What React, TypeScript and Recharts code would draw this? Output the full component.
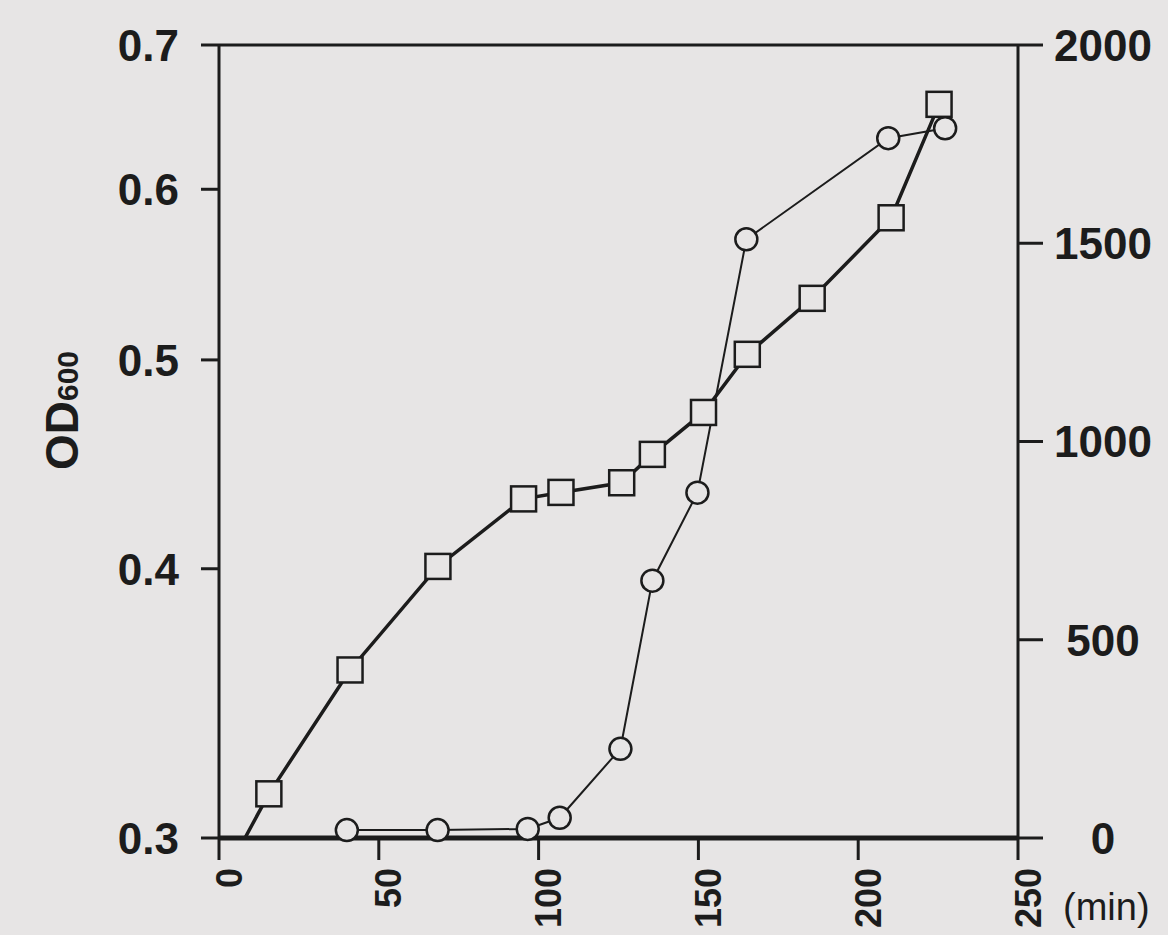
import React from 'react';
import { LineChart, Line, XAxis, YAxis, ReferenceLine } from 'recharts';

// OD600 (squares, left log axis) and activity (circles, right axis) vs time in min
const squareTimes = [0, 15.6, 41, 68.5, 95.3, 107, 126, 135.6, 151.6, 165.3, 185.6, 210.3, 225.3];
const squareOD = [0.285, 0.3145, 0.359, 0.401, 0.431, 0.434, 0.4385, 0.452, 0.4727, 0.503, 0.534, 0.582, 0.657];
const circleTimes = [40, 68.4, 96.6, 106.6, 125.6, 135.6, 149.7, 165, 209.4, 227.2];
const circleValues = [20, 20, 23, 51, 225, 649, 871, 1510, 1765, 1790];
const timeTicks = [0, 50, 100, 150, 200, 250];
const odTicks = [0.3, 0.4, 0.5, 0.6, 0.7];
const rightTicks = [0, 500, 1000, 1500, 2000];

const INK = '#1c1c1c';
const BG = '#e7e5e5';
const FONT = '"Liberation Sans", Arial, Helvetica, sans-serif';

const odData = squareTimes.map((t, i) => ({ t, od: squareOD[i] }));
const circleData = circleTimes.map((t, i) => ({ t, value: circleValues[i] }));

const SquareDot = (props: any) => {
  const { cx, cy, index, payload } = props;
  if (payload.od < 0.3) return <g key={`sq-${index}`} />;
  return (
    <rect
      key={`sq-${index}`}
      x={cx - 12.5}
      y={cy - 12.5}
      width={25}
      height={25}
      fill={BG}
      stroke={INK}
      strokeWidth={2.5}
    />
  );
};

const CircleDot = (props: any) => {
  const { cx, cy, index } = props;
  return <circle key={`ci-${index}`} cx={cx} cy={cy} r={11} fill={BG} stroke={INK} strokeWidth={2.5} />;
};

const LeftTick = ({ x, y, payload }: any) => (
  <text x={x} y={y} dy="0.36em" textAnchor="end" fontFamily={FONT} fontSize={44} fontWeight="bold" fill={INK}>
    {payload.value}
  </text>
);

const RightTick = ({ x, y, payload }: any) => (
  <text x={x} y={y} dy="0.36em" textAnchor="middle" fontFamily={FONT} fontSize={44} fontWeight="bold" fill={INK}>
    {payload.value}
  </text>
);

const TimeTick = ({ x, y, payload }: any) => (
  <text
    x={x + 10}
    y={y}
    dy="0.35em"
    textAnchor="end"
    transform={`rotate(-90, ${x + 10}, ${y})`}
    fontFamily={FONT}
    fontSize={36}
    fontWeight="bold"
    fill={INK}
  >
    {payload.value}
  </text>
);

const ODLabel = ({ viewBox }: any) => {
  const x = viewBox.x + 78;
  const y = viewBox.y + viewBox.height / 2 - 31;
  return (
    <text x={x} y={y} textAnchor="middle" transform={`rotate(-90, ${x}, ${y})`} fontFamily={FONT} fontWeight="bold" fill={INK}>
      <tspan fontSize={46}>OD</tspan>
      <tspan fontSize={30}>600</tspan>
    </text>
  );
};

const MinLabel = ({ viewBox }: any) => (
  <text x={viewBox.x + viewBox.width + 45} y={viewBox.y + 82} fontFamily={FONT} fontSize={38} fill={INK}>
    (min)
  </text>
);

export default function App() {
  return (
    <div style={{ position: 'absolute', left: 0, top: 0, width: 1168, height: 935, background: BG }}>
      <LineChart width={1168} height={935} margin={{ top: 45, right: 0, bottom: 0, left: 0 }}>
        <XAxis
          type="number"
          dataKey="t"
          domain={[0, 250]}
          ticks={timeTicks}
          height={97}
          tickSize={22}
          tickMargin={8}
          tick={<TimeTick />}
          axisLine={{ stroke: INK, strokeWidth: 5 }}
          tickLine={{ stroke: INK, strokeWidth: 3 }}
          label={(p: any) => <MinLabel {...p} />}
        />
        <YAxis
          yAxisId="left"
          type="number"
          scale="log"
          domain={[0.3, 0.7]}
          allowDataOverflow
          ticks={odTicks}
          width={219}
          tickSize={18}
          tickMargin={22}
          tick={<LeftTick />}
          axisLine={{ stroke: INK, strokeWidth: 3 }}
          tickLine={{ stroke: INK, strokeWidth: 3 }}
          label={(p: any) => <ODLabel {...p} />}
        />
        <YAxis
          yAxisId="right"
          orientation="right"
          type="number"
          domain={[0, 2000]}
          ticks={rightTicks}
          width={150}
          tickSize={25}
          tickMargin={60}
          tick={<RightTick />}
          axisLine={{ stroke: INK, strokeWidth: 3 }}
          tickLine={{ stroke: INK, strokeWidth: 3 }}
        />
        <ReferenceLine yAxisId="right" y={2000} stroke={INK} strokeWidth={3} />
        <Line
          yAxisId="left"
          data={odData}
          dataKey="od"
          type="linear"
          stroke={INK}
          strokeWidth={3.5}
          dot={SquareDot}
          activeDot={false}
          isAnimationActive={false}
        />
        <Line
          yAxisId="right"
          data={circleData}
          dataKey="value"
          type="linear"
          stroke={INK}
          strokeWidth={2}
          dot={CircleDot}
          activeDot={false}
          isAnimationActive={false}
        />
      </LineChart>
    </div>
  );
}
